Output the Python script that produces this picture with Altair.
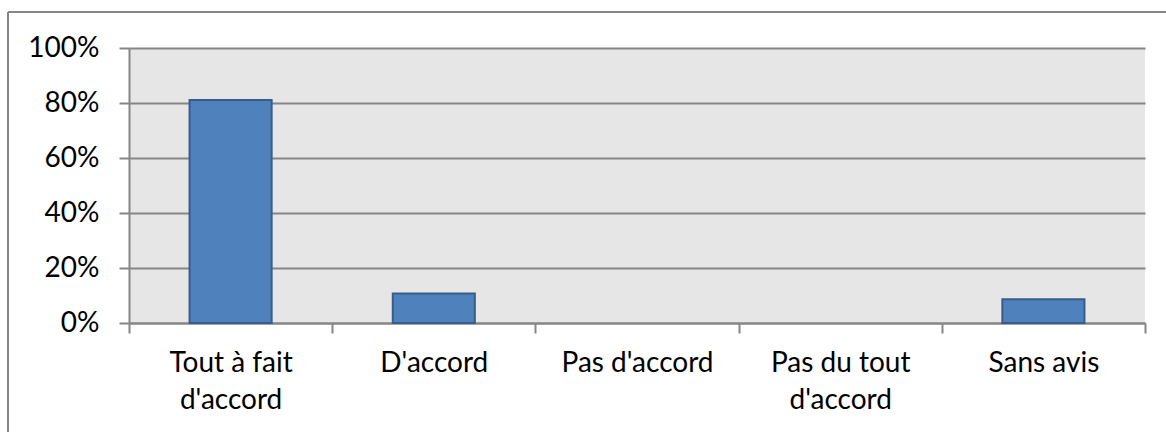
import altair as alt
import pandas as pd

categories = ["Tout à fait\nd'accord", "D'accord", "Pas d'accord", "Pas du tout\nd'accord", "Sans avis"]
values = [0.811, 0.107, 0.0, 0.0, 0.086]

df = pd.DataFrame({"cat": categories, "val": values})

FONT = "Lato"
GRAY = "#868686"

bars = alt.Chart(df).mark_bar(
    color="#4f81bd", strokeWidth=2, width=alt.RelativeBandSize(0.404)
).encode(
    x=alt.X("cat:N", sort=categories, title=None,
            scale=alt.Scale(paddingInner=0, paddingOuter=0),
            axis=alt.Axis(labelAngle=0, labelExpr="split(datum.label, '\\n')",
                          tickBand="extent", tickSize=10, tickColor=GRAY, tickWidth=2,
                          domainColor=GRAY, domainWidth=2, labelPadding=16,
                          labelLineHeight=37, labelFontSize=28, labelFont=FONT,
                          labelColor="#000000", grid=False)),
    y=alt.Y("val:Q", title=None,
            scale=alt.Scale(domain=[0, 1], nice=False),
            axis=alt.Axis(format=".0%", values=[0, 0.2, 0.4, 0.6, 0.8, 1.0],
                          tickSize=10, tickColor=GRAY, tickWidth=2,
                          domainColor=GRAY, domainWidth=2, labelPadding=20,
                          labelFontSize=28, labelFont=FONT, labelColor="#000000",
                          grid=True, gridColor=GRAY, gridWidth=2)),
    stroke=alt.condition("datum.val > 0", alt.value("#385d8a"), alt.value(None)),
)

border_top = alt.Chart(df).mark_rule(color=GRAY, strokeWidth=2).encode(
    x=alt.value(-121), x2=alt.value(1100), y=alt.value(-36))
border_left = alt.Chart(df).mark_rule(color=GRAY, strokeWidth=2).encode(
    x=alt.value(-121), y=alt.value(-36), y2=alt.value(400))

chart = alt.layer(bars, border_top, border_left).properties(
    width=1016, height=275,
    autosize=alt.AutoSizeParams(type="none"),
    padding={"left": 129, "top": 48, "right": 21, "bottom": 109},
    background="#ffffff",
).configure_view(fill="#e6e6e6", stroke=None)

chart.save("out.html", embed_options={"renderer": "svg", "actions": False})
